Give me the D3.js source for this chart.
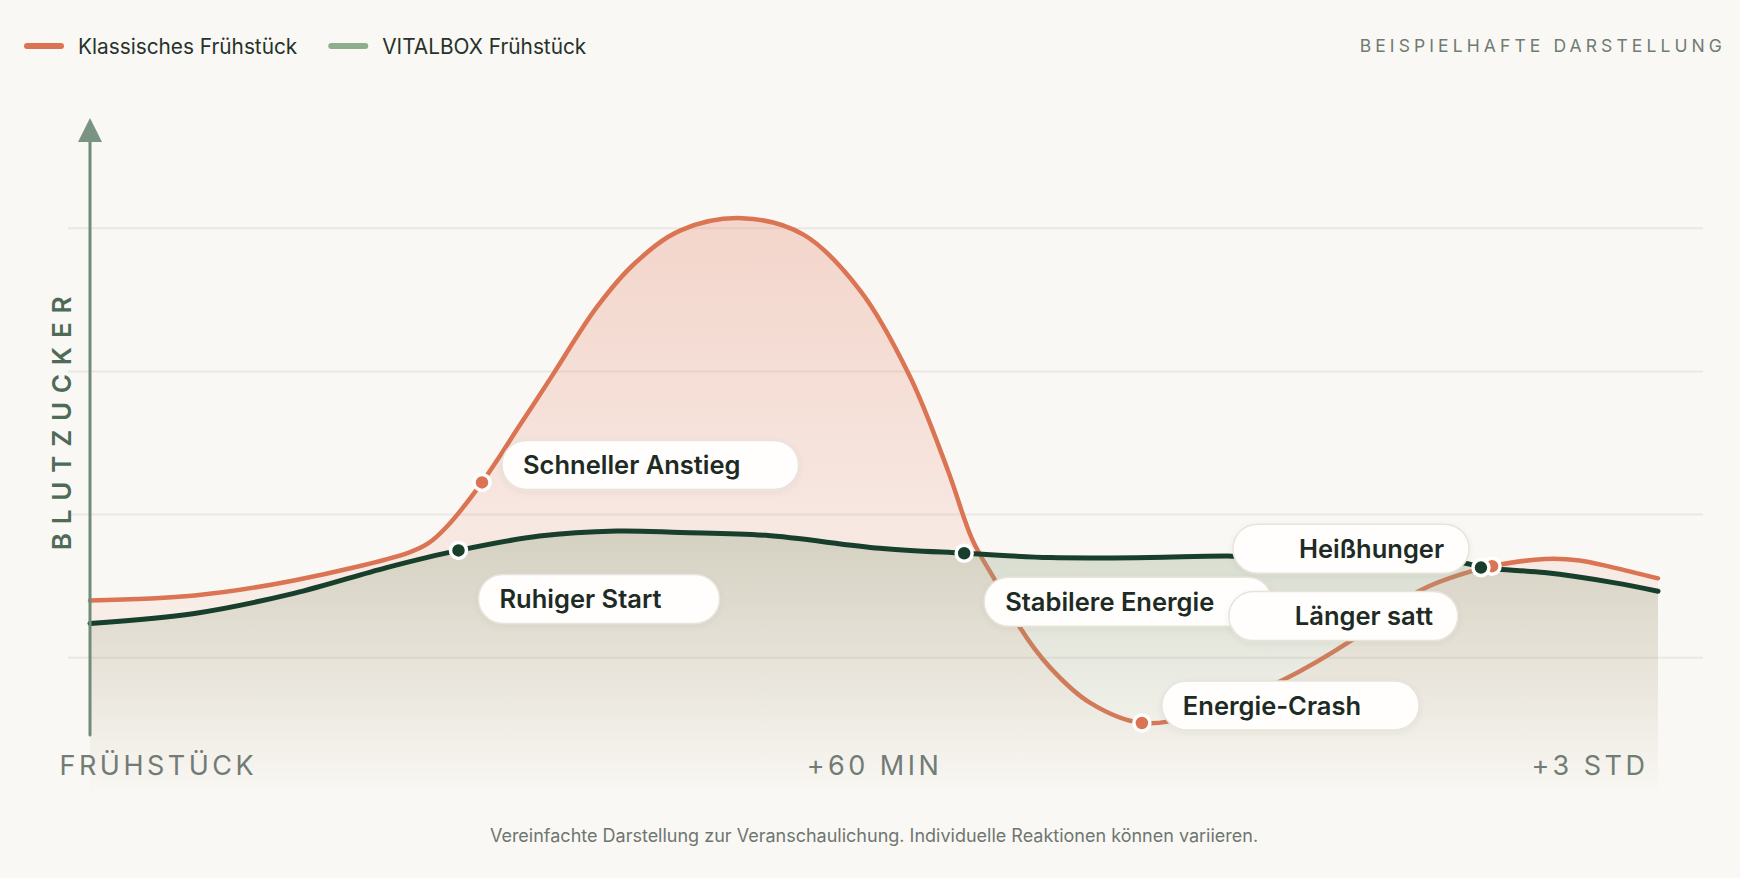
<!DOCTYPE html>
<html lang="de">
<head>
<meta charset="utf-8">
<title>Blutzucker nach dem Frühstück</title>
<script src="https://cdn.jsdelivr.net/npm/d3@7"></script>
<style>
  html, body { margin: 0; background: #faf8f4; }
  body { font-family: Inter, "Noto Sans", sans-serif; }
  svg { display: block; }
</style>
</head>
<body>
<div id="chart"></div>
<script>
// Zeitachse in Minuten nach dem Frühstück
const xTicks = [0, 60, 180];
const xTickLabels = ["FRÜHSTÜCK", "+60 MIN", "+3 STD"];

// Hilfslinien (Blutzucker, schematisch in mg/dl)
const gridValues = [80, 100, 120, 140];

const seriesNames = ["Klassisches Frühstück", "VITALBOX Frühstück"];

// Klassisches Frühstück: [Minute, Blutzucker]
const classicCurve = [
  [0, 88.0], [8, 88.7], [15.6, 90.8], [24.4, 94.7], [25.9, 96.0], [27.3, 98.3],
  [30, 104.5], [32.9, 112.5], [35.3, 119.2], [38.8, 129.0], [41.7, 135.1],
  [45.2, 139.7], [49.9, 141.4], [54.6, 139.1], [58.9, 131.4], [65.5, 119.3],
  [71.3, 106.2], [75.1, 96.4], [78.8, 90.4], [82.3, 84.3], [86.9, 78.7],
  [93.1, 73.7], [101, 70.9], [109.9, 72.2], [122.6, 76.9], [133.2, 82.5],
  [143.6, 89.4], [151.1, 92.0], [154.6, 92.8], [162.6, 93.8], [168, 93.6],
  [173.2, 92.6], [180, 91.1]
];

// VITALBOX Frühstück: [Minute, Blutzucker]
const vitalCurve = [
  [0, 84.8], [8, 86.2], [15.6, 89.0], [22.7, 92.6], [28.2, 95.0], [34.4, 97.0],
  [40.3, 97.7], [45.2, 97.5], [51.7, 97.1], [60.9, 95.3], [73.8, 94.6],
  [87, 94.0], [102.2, 94.0], [114.9, 94.2], [150.5, 93.2], [152.9, 92.6],
  [162.6, 91.9], [173.2, 90.5], [180, 89.3]
];

// Hinweise an den Kurven (series: 0 = klassisch, 1 = VITALBOX)
const annotations = [
  { label: "Schneller Anstieg", series: 0, t: 30 },
  { label: "Energie-Crash", series: 0, t: 101 },
  { label: "Heißhunger", series: 0, t: 154.6 },
  { label: "Ruhiger Start", series: 1, t: 28.2 },
  { label: "Stabilere Energie", series: 1, t: 73.8 },
  { label: "Länger satt", series: 1, t: 152.9 }
];

// Lage der Kästchen relativ zum Punkt
const calloutLayout = {
  "Schneller Anstieg": { side: "right", pos: "above" },
  "Energie-Crash": { side: "right", pos: "above" },
  "Heißhunger": { side: "left", pos: "above" },
  "Ruhiger Start": { side: "right", pos: "below" },
  "Stabilere Energie": { side: "right", pos: "below" },
  "Länger satt": { side: "left", pos: "below" }
};

const width = 1740;
const height = 878;
const fillBase = 795;

const colors = {
  classic: "#da7453",
  vital: "#173f2c",
  vitalLegend: "#8fae8b",
  axis: "#6f8b79",
  muted: "#717c75"
};

const x = d3.scaleLinear().domain([0, 60, 180]).range([90, 874, 1658]);
const y = d3.scaleLinear().domain([60, 160]).range([801, 85]);

const svg = d3.select("#chart")
  .append("svg")
  .attr("width", width)
  .attr("height", height)
  .attr("font-family", "Inter, 'Noto Sans', sans-serif");

svg.append("rect").attr("width", width).attr("height", height).attr("fill", "#faf8f4");

const defs = svg.append("defs");

const classicGrad = defs.append("linearGradient")
  .attr("id", "classicFill")
  .attr("gradientUnits", "userSpaceOnUse")
  .attr("x1", 0).attr("x2", 0)
  .attr("y1", y(142)).attr("y2", fillBase);
classicGrad.append("stop").attr("offset", 0).attr("stop-color", "#e2826a").attr("stop-opacity", 0.3);
classicGrad.append("stop").attr("offset", 1).attr("stop-color", "#e2826a").attr("stop-opacity", 0);

const vitalGrad = defs.append("linearGradient")
  .attr("id", "vitalFill")
  .attr("gradientUnits", "userSpaceOnUse")
  .attr("x1", 0).attr("x2", 0)
  .attr("y1", y(98)).attr("y2", fillBase);
vitalGrad.append("stop").attr("offset", 0).attr("stop-color", "#96a888").attr("stop-opacity", 0.36);
vitalGrad.append("stop").attr("offset", 1).attr("stop-color", "#96a888").attr("stop-opacity", 0);

const shadow = defs.append("filter")
  .attr("id", "soft")
  .attr("x", "-20%").attr("y", "-50%")
  .attr("width", "140%").attr("height", "200%");
shadow.append("feDropShadow")
  .attr("dx", 0).attr("dy", 2).attr("stdDeviation", 3)
  .attr("flood-color", "#3c3a30").attr("flood-opacity", 0.06);

// Hilfslinien
svg.append("g")
  .selectAll("line")
  .data(gridValues)
  .join("line")
  .attr("x1", 68)
  .attr("x2", 1703)
  .attr("y1", d => y(d))
  .attr("y2", d => y(d))
  .attr("stroke", "#ebe8e1")
  .attr("stroke-width", 2);

const curve = d3.curveCatmullRom.alpha(0.5);

const area = d3.area()
  .x(d => x(d[0]))
  .y0(fillBase)
  .y1(d => y(d[1]))
  .curve(curve);

const line = d3.line()
  .x(d => x(d[0]))
  .y(d => y(d[1]))
  .curve(curve);

// klassisch zuerst, VITALBOX-Fläche liegt darüber
svg.append("path").datum(classicCurve).attr("d", area).attr("fill", "url(#classicFill)");
svg.append("path").datum(classicCurve)
  .attr("d", line)
  .attr("fill", "none")
  .attr("stroke", colors.classic)
  .attr("stroke-width", 4.5)
  .attr("stroke-linecap", "round");

svg.append("path").datum(vitalCurve).attr("d", area).attr("fill", "url(#vitalFill)");
svg.append("path").datum(vitalCurve)
  .attr("d", line)
  .attr("fill", "none")
  .attr("stroke", colors.vital)
  .attr("stroke-width", 5)
  .attr("stroke-linecap", "round");

// Y-Achse mit Pfeil
svg.append("line")
  .attr("x1", x(0)).attr("x2", x(0))
  .attr("y1", 735).attr("y2", 130)
  .attr("stroke", colors.axis)
  .attr("stroke-width", 3)
  .attr("stroke-linecap", "round");
svg.append("path")
  .attr("d", `M${x(0) - 12},142 L${x(0)},118 L${x(0) + 12},142 Z`)
  .attr("fill", "#7a9483");

svg.append("text")
  .attr("transform", "translate(62,419) rotate(-90)")
  .attr("text-anchor", "middle")
  .attr("dy", "0.36em")
  .attr("font-size", 26)
  .attr("font-weight", 600)
  .attr("fill", "#4d6b58")
  .style("letter-spacing", "8.8px")
  .text("BLUTZUCKER");

// X-Achse
const gx = svg.append("g")
  .attr("transform", "translate(0,775)")
  .call(d3.axisBottom(x).tickValues(xTicks).tickFormat((d, i) => xTickLabels[i]).tickSize(0).tickPadding(0));
gx.select(".domain").remove();
gx.selectAll("text")
  .attr("y", 0)
  .attr("dy", 0)
  .attr("dx", (d, i) => i === 0 ? -31 : (i === xTicks.length - 1 ? -10 : 0))
  .attr("text-anchor", (d, i) => i === 0 ? "start" : (i === xTicks.length - 1 ? "end" : "middle"))
  .attr("font-family", "Inter, 'Noto Sans', sans-serif")
  .attr("font-size", 27)
  .attr("fill", colors.muted)
  .style("letter-spacing", "3.5px");

// Hinweise
const calloutLayer = svg.append("g");
const dotLayer = svg.append("g");

annotations.forEach(a => {
  const series = a.series === 0 ? classicCurve : vitalCurve;
  const p = series.find(d => d[0] === a.t);
  const cx = x(p[0]);
  const cy = y(p[1]);
  const lay = calloutLayout[a.label];

  const g = calloutLayer.append("g");
  const rect = g.append("rect");
  const txt = g.append("text")
    .attr("font-size", 25.5)
    .attr("font-weight", 600)
    .attr("fill", "#1e2b24")
    .attr("dy", "0.36em")
    .text(a.label);

  const tw = txt.node().getComputedTextLength();
  const bw = lay.side === "right" ? tw + 79 : tw + 91;
  const bh = 49;
  const bx = lay.side === "right" ? cx + 20 : cx - 23 - bw;
  const by = lay.pos === "above" ? cy - 42 : cy + 24;

  rect.attr("x", bx).attr("y", by)
    .attr("width", bw).attr("height", bh)
    .attr("rx", bh / 2)
    .attr("fill", "#fffefc")
    .attr("stroke", "#e7e4dc")
    .attr("stroke-width", 1.5)
    .attr("filter", "url(#soft)");

  txt.attr("y", by + bh / 2)
    .attr("x", lay.side === "right" ? bx + 21 : bx + bw - 25)
    .attr("text-anchor", lay.side === "right" ? "start" : "end");
});

// Punkte: klassisch zuerst, VITALBOX darüber
annotations
  .slice()
  .sort((a, b) => a.series - b.series)
  .forEach(a => {
    const series = a.series === 0 ? classicCurve : vitalCurve;
    const p = series.find(d => d[0] === a.t);
    dotLayer.append("circle")
      .attr("cx", x(p[0]))
      .attr("cy", y(p[1]))
      .attr("r", 8)
      .attr("fill", a.series === 0 ? colors.classic : colors.vital)
      .attr("stroke", "#ffffff")
      .attr("stroke-width", 3.5);
  });

// Legende
const legend = svg.append("g").attr("transform", "translate(0,46)");
let lx = 24;
seriesNames.forEach((name, i) => {
  legend.append("line")
    .attr("x1", lx + 3).attr("x2", lx + 37)
    .attr("stroke", i === 0 ? colors.classic : colors.vitalLegend)
    .attr("stroke-width", 6)
    .attr("stroke-linecap", "round");
  const t = legend.append("text")
    .attr("x", lx + 54)
    .attr("dy", "0.36em")
    .attr("font-size", 20.8)
    .attr("fill", "#26322b")
    .text(name);
  lx = lx + 54 + t.node().getComputedTextLength() + 31;
});

svg.append("text")
  .attr("x", 1726)
  .attr("y", 46)
  .attr("dy", "0.36em")
  .attr("text-anchor", "end")
  .attr("font-size", 17.5)
  .attr("fill", "#6f7b73")
  .style("letter-spacing", "4.1px")
  .text("BEISPIELHAFTE DARSTELLUNG");

svg.append("text")
  .attr("x", 874)
  .attr("y", 842)
  .attr("text-anchor", "middle")
  .attr("font-size", 18)
  .attr("fill", "#6e7670")
  .text("Vereinfachte Darstellung zur Veranschaulichung. Individuelle Reaktionen können variieren.");
</script>
</body>
</html>
